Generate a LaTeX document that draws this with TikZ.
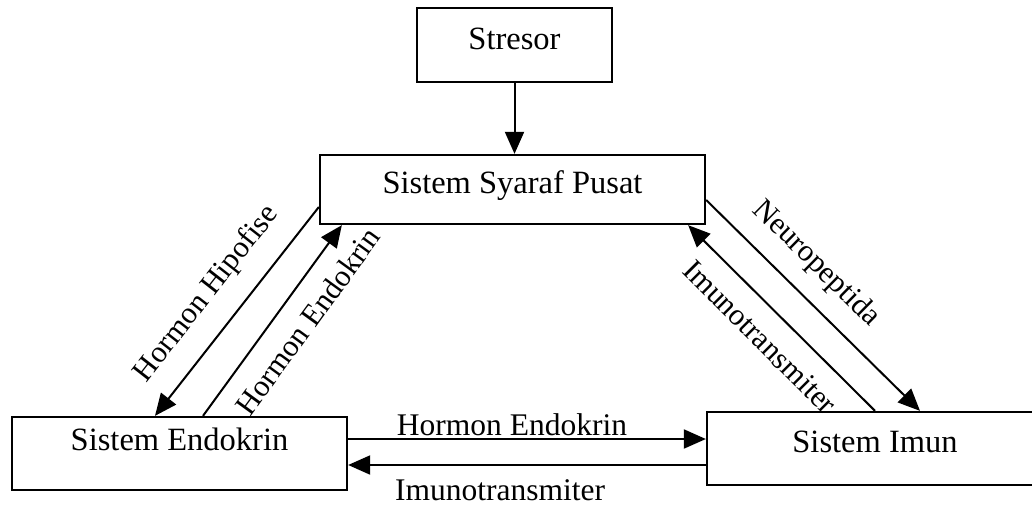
\documentclass[tikz,border=0pt]{standalone}
\usepackage{fontspec}
\setmainfont{Liberation Serif}
\usetikzlibrary{arrows.meta}
\begin{document}
\begin{tikzpicture}[x=1pt,y=-1pt,
  box/.style={draw, line width=2.3pt, inner sep=0pt, text height=14pt, text depth=6pt,
    font=\fontsize{32.5}{38}\selectfont},
  lab/.style={inner sep=0pt, font=\fontsize{31.5}{37}\selectfont},
  dlab/.style={inner sep=0pt, font=\fontsize{30.5}{36}\selectfont},
  arr/.style={line width=2pt, -{Triangle[length=22pt,width=19pt]}}]
\fill[white] (0,0) rectangle (1032,514);
\clip (0,0) rectangle (1032,514);
\node[box, minimum width=195pt, minimum height=74pt] (str) at (514.5,45) {Stresor};
\node[box, minimum width=385pt, minimum height=69pt] (ssp) at (512.5,189.5) {Sistem Syaraf Pusat};
\node[box, minimum width=335pt, minimum height=73pt, text height=6pt, text depth=13pt] (endo) at (179.5,453.5) {Sistem Endokrin};
\node[box, minimum width=336pt, minimum height=73pt] (imun) at (875,448.5) {Sistem Imun};
% arrows
\draw[arr] (str.south) -- (str.south |- ssp.north);
\draw[arr] ([yshift=-17.5pt]ssp.west) -- ([xshift=-24.5pt]endo.north);
\draw[arr] ([xshift=23.5pt]endo.north) -- ([xshift=23pt]ssp.south west);
\draw[arr] ([yshift=-10.5pt]ssp.east) -- ([xshift=45pt]imun.north);
\draw[arr] (imun.north) -- ([xshift=-18pt]ssp.south east);
\coordinate (h1) at ([yshift=14.5pt]endo.east);
\coordinate (h2) at ([yshift=-11.5pt]endo.east);
\draw[arr] (h1) -- (h1 -| imun.west);
\draw[arr] (h2 -| imun.west) -- (h2);
% labels
\node[dlab, rotate=52] (lhh) at (207,294) {Hormon Hipofise};
\node[dlab, rotate=54] (lhe) at (308,321) {Hormon Endokrin};
\node[dlab, rotate=-44.5] (lnp) at (816,264) {Neuropeptida};
\node[dlab, rotate=-45] (lit) at (760,337) {Imunotransmiter};
\node[lab, anchor=base] (lhe2) at (512,435) {Hormon Endokrin};
\node[lab, anchor=base] (lit2) at (500,500) {Imunotransmiter};
\end{tikzpicture}
\end{document}
